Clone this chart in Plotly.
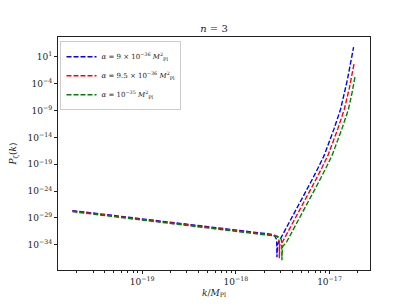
import numpy as np
import plotly.graph_objects as go

# ---- data (log10 values) ----
log10_k_blue = [-19.745, -19.3, -18.867, -18.606, -18.2, -17.9, -17.7, -17.613,
                -17.582, -17.568, -17.563, -17.561, -17.556, -17.54, -17.50, -17.455,
                -17.376, -17.30, -17.195, -17.12, -17.056, -16.952, -16.882, -16.81, -16.743]
log10_P_blue = [-27.62, -28.53, -29.45, -29.94, -30.77, -31.40, -31.85, -32.05,
                -32.45, -32.90, -33.60, -36.33, -33.95, -33.40, -32.10, -30.65,
                -28.27, -25.80, -22.16, -19.60, -17.29, -12.40, -8.74, -3.30, 2.83]

log10_k_red = [-19.745, -19.3, -18.867, -18.606, -18.2, -17.9, -17.7, -17.613,
               -17.58, -17.556, -17.542, -17.537, -17.535, -17.532, -17.50, -17.46, -17.415,
               -17.336, -17.26, -17.155, -17.08, -17.016, -16.912, -16.842, -16.79, -16.735]
log10_P_red = [-27.72, -28.63, -29.55, -30.04, -30.87, -31.50, -31.95, -32.15,
               -32.25, -32.50, -32.95, -33.60, -36.51, -34.10, -33.40, -32.10, -30.65,
               -28.27, -25.80, -22.16, -19.60, -17.29, -12.40, -8.74, -4.90, 0.01]

log10_k_green = [-19.745, -19.3, -18.867, -18.606, -18.2, -17.9, -17.7, -17.613,
                 -17.56, -17.53, -17.515, -17.51, -17.508, -17.504, -17.456, -17.416, -17.371,
                 -17.292, -17.216, -17.111, -17.036, -16.972, -16.868, -16.798, -16.76, -16.725]
log10_P_green = [-27.82, -28.73, -29.65, -30.14, -30.97, -31.60, -32.05, -32.25,
                 -32.40, -32.60, -33.00, -33.70, -36.88, -34.40, -33.40, -32.10, -30.65,
                 -28.27, -25.80, -22.16, -19.60, -17.29, -12.40, -8.74, -5.70, -2.42]

labels = ["<i>α</i> = 9 × 10<sup>−36</sup> <i>M</i><sup>2</sup><sub>Pl</sub>",
          "<i>α</i> = 9.5 × 10<sup>−36</sup> <i>M</i><sup>2</sup><sub>Pl</sub>",
          "<i>α</i> = 10<sup>−35</sup> <i>M</i><sup>2</sup><sub>Pl</sub>"]
colors = ["#0000ff", "#ff0000", "#008000"]

x_tick_exp = [-19, -18, -17]
y_tick_exp = [1, -4, -9, -14, -19, -24, -29, -34]

FONT = "DejaVu Serif, serif"
INK = "#222222"

fig = go.Figure()
series = [(log10_k_blue, log10_P_blue), (log10_k_red, log10_P_red), (log10_k_green, log10_P_green)]
for (lk, lp), lab, c in zip(series, labels, colors):
    fig.add_trace(go.Scatter(
        x=10.0 ** np.array(lk), y=10.0 ** np.array(lp), mode="lines", name=lab,
        line=dict(color=c, width=1.4, dash="5px,2px")))

x_minor = [m * 10.0 ** e for e in range(-20, -16) for m in range(2, 10)]

axis_common = dict(showline=True, linecolor=INK, linewidth=1, mirror=True,
                   showgrid=False, zeroline=False, ticks="outside", ticklen=3,
                   tickcolor=INK, tickfont=dict(family=FONT, size=9, color=INK))

fig.update_layout(
    width=411, height=308,
    margin=dict(l=51, r=41, t=37, b=34),
    plot_bgcolor="white", paper_bgcolor="white",
    font=dict(family=FONT, color=INK),
    title=dict(text="<i>n</i> = 3", x=0.5, xref="paper", xanchor="center",
               y=1 - 28 / 308, yanchor="middle", font=dict(family=FONT, size=10, color=INK)),
    xaxis=dict(type="log", range=[-19.898, -16.568],
               tickvals=[10.0 ** e for e in x_tick_exp],
               ticktext=["10<sup>−%d</sup>" % (-e) for e in x_tick_exp],
               minor=dict(tickvals=x_minor, ticks="outside", ticklen=2, tickcolor=INK),
               title=dict(text="<i>k</i>/<i>M</i><sub>Pl</sub>", standoff=3,
                          font=dict(family=FONT, size=9, color=INK)),
               **axis_common),
    yaxis=dict(type="log", range=[-38.69, 4.72],
               tickvals=[10.0 ** e for e in y_tick_exp],
               ticktext=["10<sup>%s</sup>" % (str(e) if e > 0 else "−%d" % (-e)) for e in y_tick_exp],
               title=dict(text="<i>P</i><sub>ζ</sub>(<i>k</i>)", standoff=9,
                          font=dict(family=FONT, size=9, color=INK)),
               **axis_common),
    legend=dict(x=0.008, y=0.982, xanchor="left", yanchor="top",
                bgcolor="rgba(255,255,255,0.8)", bordercolor="#cccccc", borderwidth=1,
                font=dict(family=FONT, size=7, color=INK),
                itemwidth=30, tracegroupgap=0),
    showlegend=True,
)

fig.write_html("out.html", config={"displayModeBar": False},
               post_script="document.body.style.margin='0px';document.body.style.padding='0px';")
